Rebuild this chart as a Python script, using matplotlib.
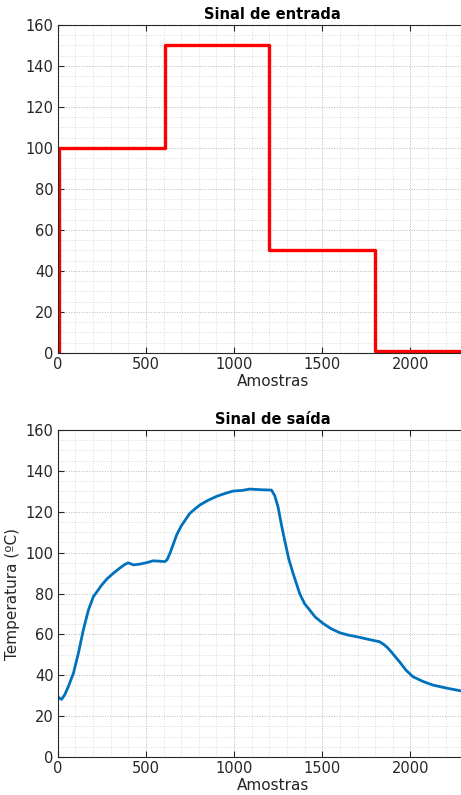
import matplotlib
matplotlib.use("Agg")
import matplotlib.pyplot as plt
from matplotlib.ticker import MultipleLocator

# input signal: step breakpoints (sample index, level)
entrada_x = [0, 6, 610, 1200, 1800, 2440]
entrada_y = [0, 100, 150, 50, 1, 1]

# output temperature
saida_x = [0, 10, 22, 40, 60, 89, 117, 145, 174, 202, 249, 280, 315, 350,
           380, 400, 430, 466, 500, 541, 580, 607, 620, 636, 655, 674, 700, 749,
           780, 806, 850, 900, 950, 994, 1050, 1089, 1150, 1212, 1230, 1249,
           1270, 1287, 1310, 1334, 1372, 1400, 1429, 1460, 1504, 1550, 1599,
           1650, 1693, 1750, 1825, 1850, 1870, 1891, 1938, 1975, 2014, 2070,
           2127, 2200, 2284, 2360, 2440]
saida_y = [29.5, 28.8, 28.2, 30.5, 34.4, 41, 50.7, 62.1, 71.9, 78.4, 84.1,
           87.2, 89.9, 92.3, 94.2, 95, 94, 94.4, 95, 96, 95.8, 95.6, 96.5,
           99.6, 104, 108.6, 113, 119.2, 121.5, 123.3, 125.5, 127.5, 129,
           130.1, 130.5, 131.1, 130.8, 130.6, 128, 122.5, 113, 106, 97, 90,
           80, 75, 71.9, 68.5, 65.4, 62.8, 60.8, 59.6, 58.9, 57.8, 56.4, 55,
           53.5, 51.5, 46.6, 42.5, 39.3, 37, 35.2, 33.8, 32.4, 31.8, 31.3]

plt.rcParams["font.family"] = "DejaVu Sans"
txt = "#262626"

fig = plt.figure(figsize=(4.61, 7.95), dpi=100)
ax1 = fig.add_axes([0.1252, 0.556, 0.9334, 0.4126])
ax2 = fig.add_axes([0.1252, 0.0478, 0.9334, 0.4113])


def style(ax):
    ax.set_xlim(0, 2440)
    ax.set_ylim(0, 160)
    ax.xaxis.set_major_locator(MultipleLocator(500))
    ax.xaxis.set_minor_locator(MultipleLocator(100))
    ax.yaxis.set_major_locator(MultipleLocator(20))
    ax.yaxis.set_minor_locator(MultipleLocator(5))
    ax.grid(which="major", linestyle=":", color="#b8b8b8", linewidth=0.7)
    ax.grid(which="minor", linestyle=":", color="#d4d4d4", linewidth=0.6)
    ax.set_axisbelow(True)
    ax.tick_params(which="major", direction="in", length=4, width=0.8,
                   top=True, right=True, labelsize=10.5, colors=txt, pad=3)
    ax.tick_params(which="minor", length=0, top=True, right=True)
    for s in ax.spines.values():
        s.set_color(txt)
        s.set_linewidth(0.8)
    ax.set_xlabel("Amostras", fontsize=11, color=txt, labelpad=1)


ax1.plot(entrada_x, entrada_y, drawstyle="steps-post", color="red", linewidth=2.4)
style(ax1)
ax1.set_title("Sinal de entrada", fontsize=10.5, fontweight="bold", pad=4)

ax2.plot(saida_x, saida_y, color="#0072BD", linewidth=2)
style(ax2)
ax2.set_title("Sinal de saída", fontsize=10.5, fontweight="bold", pad=4)
ax2.set_ylabel("Temperatura (ºC)", fontsize=11, color=txt, labelpad=4)

fig.savefig("out.png", dpi=100)
